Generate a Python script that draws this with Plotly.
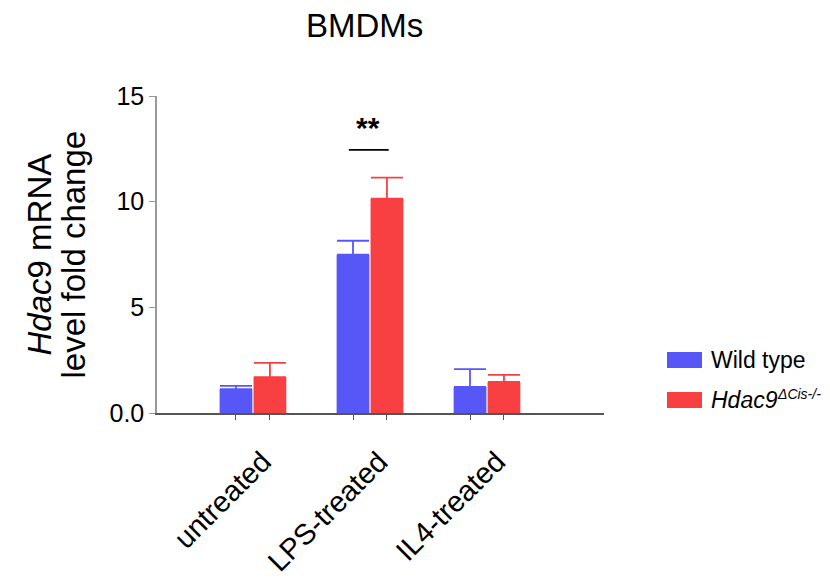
import plotly.graph_objects as go

categories = ["untreated", "LPS-treated", "IL4-treated"]
wt_values = [1.13, 7.49, 1.23]
wt_errors = [0.15, 0.66, 0.85]
ko_values = [1.70, 10.14, 1.47]
ko_errors = [0.67, 1.00, 0.33]
series_names = ["Wild type", "<i>Hdac9</i>"]
series_sups = ["", "<i>ΔCis-/-</i>"]
y_tickvals = [0, 5, 10, 15]
y_ticktext = ["0.0", "5", "10", "15"]

BLUE = "#5757F8"
RED = "#F84043"
off = 0.145
bw = 0.28

# page offset (body margin) compensation
OX, OY = 8, 8
W, H = 830 - OX, 583 - OY
PL, PR, PT, PB = 157 - OX, 604 - OX, 96 - OY, 413 - OY
PW, PH = PR - PL, PB - PT

def px(xp):  # reference page x -> paper
    return (xp - OX - PL) / PW

def py(yp):  # reference page y -> paper
    return (PB - (yp - OY)) / PH

grp = list(range(len(categories)))
wt_x = [g - off for g in grp]
ko_x = [g + off for g in grp]

fig = go.Figure()
fig.add_trace(go.Bar(
    x=wt_x, y=wt_values, width=bw, marker=dict(color=BLUE, line=dict(width=0)),
    error_y=dict(type="data", array=wt_errors, arrayminus=[0]*3, symmetric=False,
                 color=BLUE, thickness=1.8, width=16),
    name="Wild type", showlegend=False))
fig.add_trace(go.Bar(
    x=ko_x, y=ko_values, width=bw, marker=dict(color=RED, line=dict(width=0)),
    error_y=dict(type="data", array=ko_errors, arrayminus=[0]*3, symmetric=False,
                 color=RED, thickness=1.8, width=16),
    name="KO", showlegend=False))

fig.update_layout(
    width=W, height=H,
    margin=dict(l=PL, r=W - PR, t=PT, b=H - PB),
    plot_bgcolor="white", paper_bgcolor="white",
    font=dict(family="Liberation Sans, Arial, sans-serif", color="black"),
    barmode="overlay",
    xaxis=dict(range=[-0.82, 3.0], showgrid=False, zeroline=False,
               showline=True, linecolor="#555555", linewidth=1.5,
               tickvals=wt_x + ko_x, showticklabels=False, ticks="outside",
               ticklen=5, tickcolor="#555555", tickwidth=1.2),
    yaxis=dict(range=[0, 15], showgrid=False, zeroline=False,
               showline=True, linecolor="#999999", linewidth=1.5,
               tickvals=y_tickvals, ticktext=y_ticktext, ticks="outside",
               ticklen=6, tickcolor="#999999", tickwidth=1.2,
               tickfont=dict(size=25, color="black")),
)

# title
fig.add_annotation(text="BMDMs", xref="paper", yref="paper", x=px(364), y=py(25),
                   showarrow=False, font=dict(size=33), xanchor="center", yanchor="middle")
# y axis title (two lines, tight spacing)
fig.add_annotation(text="<i>Hdac</i>9 mRNA", xref="paper", yref="paper",
                   x=px(39), y=0.5, textangle=-90, showarrow=False,
                   font=dict(size=33), xanchor="center", yanchor="middle")
fig.add_annotation(text="level fold change", xref="paper", yref="paper",
                   x=px(73), y=0.5, textangle=-90, showarrow=False,
                   font=dict(size=33), xanchor="center", yanchor="middle")

# category labels
for g, c in zip(grp, categories):
    fig.add_annotation(text=c, x=g + 0.23, xref="x", y=py(442), yref="paper",
                       textangle=-45, showarrow=False, xanchor="right", yanchor="top",
                       font=dict(size=29))

# significance
fig.add_shape(type="line", x0=1 - 0.18, x1=1 + 0.16, y0=12.45, y1=12.45, xref="x", yref="y",
              line=dict(color="black", width=1.8))
fig.add_annotation(text="<b>**</b>", x=1 - 0.02, y=13.5, xref="x", yref="y", showarrow=False,
                   font=dict(size=30), xanchor="center", yanchor="middle")

# legend (manual)
leg_rows = [360, 400]
colors = [BLUE, RED]
for yy, col, name, sup in zip(leg_rows, colors, series_names, series_sups):
    fig.add_shape(type="rect", xref="paper", yref="paper",
                  x0=px(667), x1=px(702), y0=py(yy + 8), y1=py(yy - 8),
                  fillcolor=col, line=dict(width=0))
    fig.add_annotation(text=name, xref="paper", yref="paper", x=px(709),
                       y=py(yy), showarrow=False, xanchor="left", yanchor="middle",
                       font=dict(size=23))
    if sup:
        fig.add_annotation(text=sup, xref="paper", yref="paper", x=px(775),
                           y=py(yy - 6), showarrow=False, xanchor="left", yanchor="middle",
                           font=dict(size=14))

fig.write_html("out.html")
